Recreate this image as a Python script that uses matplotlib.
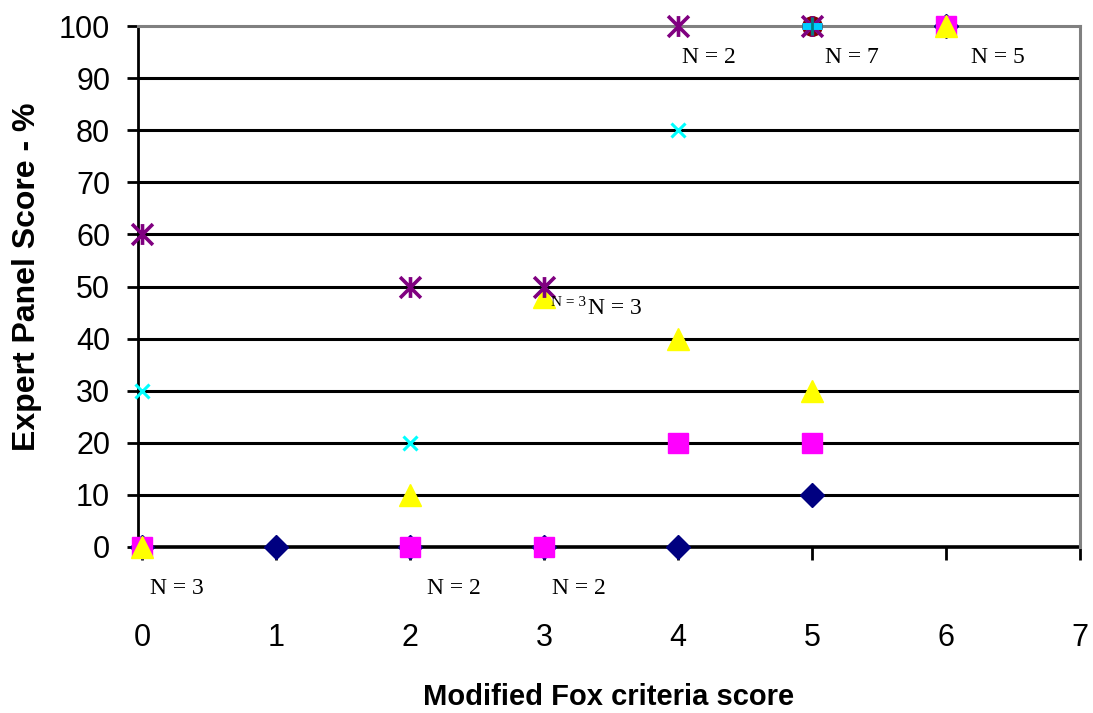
import numpy as np
import matplotlib
matplotlib.use("Agg")
import matplotlib.pyplot as plt
from matplotlib.path import Path

# Expert panel score (%) against modified Fox criteria score
diamond_x = [0, 1, 2, 3, 4, 5, 6]
diamond_y = [0, 0, 0, 0, 0, 10, 100]
square_x = [0, 2, 3, 4, 5, 6]
square_y = [0, 0, 0, 20, 20, 100]
triangle_x = [0, 2, 3, 4, 5, 6]
triangle_y = [0, 10, 48, 40, 30, 100]
cross_x = [0, 2, 3, 4, 5]
cross_y = [30, 20, 50, 80, 100]
star_x = [0, 2, 3, 4, 5]
star_y = [60, 50, 50, 100, 100]
circle_x = [5]
circle_y = [100]

# "N = n" annotations (x, y, text)
n_labels = [
    (0.26, -7.9, "N = 3"),
    (2.33, -7.9, "N = 2"),
    (3.26, -7.9, "N = 2"),
    (4.23, 94.0, "N = 2"),
    (5.30, 94.0, "N = 7"),
    (6.39, 94.0, "N = 5"),
    (3.53, 45.7, "N = 3"),
]
small_label = (3.18, 46.9, "N = 3")

sans = ["Liberation Sans", "DejaVu Sans"]
serif = ["Liberation Serif", "DejaVu Serif"]

fig = plt.figure(figsize=(10.93, 7.13), dpi=100)
ax = fig.add_axes([138 / 1093, 166 / 713, 942 / 1093, 521 / 713])

ax.set_xlim(-0.03, 6.985)
ax.set_ylim(0, 100)

# horizontal gridlines
for v in range(10, 100, 10):
    ax.axhline(v, color="black", lw=2.2, zorder=1)

for s in ["top", "right"]:
    ax.spines[s].set_color("#808080")
    ax.spines[s].set_linewidth(2.2)
ax.spines["left"].set_color("black")
ax.spines["left"].set_linewidth(2)
ax.spines["bottom"].set_color("black")
ax.spines["bottom"].set_linewidth(2.6)
ax.spines["bottom"].set_zorder(1)

asterisk = Path([(0, -1), (0, 1), (-1, -1), (1, 1), (-1, 1), (1, -1)],
                [Path.MOVETO, Path.LINETO] * 3)

kw = dict(ls="none", clip_on=False, zorder=3)
ax.plot(diamond_x, diamond_y, marker="D", ms=12.5, color="#000080", mec="#000080", **kw)
ax.plot(square_x, square_y, marker="s", ms=14, color="#FF00FF", mec="#FF00FF", **kw)
ax.plot(triangle_x, triangle_y, marker="^", ms=16, color="#FFFF00", mec="#FFFF00", **kw)
ax.plot(circle_x, circle_y, marker="o", ms=14, color="#800000", mec="#800000", **kw)
ax.plot(cross_x, cross_y, marker="x", ms=9.5, mew=2.2, color="#00FFFF", **kw)
ax.plot(star_x, star_y, marker=asterisk, ms=15, mew=2.6, color="#800080", **kw)
ax.plot(circle_x, circle_y, marker="_", ms=14, mew=5, color="#00CCFF", **kw)
ax.plot(circle_x, circle_y, marker="|", ms=13, mew=2, color="#008080", **kw)

ax.set_xticks(range(0, 8))
ax.set_yticks(range(0, 101, 10))
ax.tick_params(axis="y", direction="out", length=8, width=2, pad=12,
               labelsize=22, color="black")
ax.tick_params(axis="x", direction="out", length=9, width=2, pad=46,
               labelsize=22, color="black")
for lab in ax.get_xticklabels() + ax.get_yticklabels():
    lab.set_family(sans)

ax.set_xlabel("Modified Fox criteria score", fontsize=21, fontweight="bold",
              family=sans, va="center")
ax.xaxis.set_label_coords(0.5, -0.288)
ax.set_ylabel("Expert Panel Score - %", fontsize=23, fontweight="bold",
              family=sans, va="center")
ax.yaxis.set_label_coords(-0.118, 0.519)

for x, y, t in n_labels:
    ax.text(x, y, t, fontsize=17, family=serif, ha="center", va="center",
            clip_on=False, zorder=4)
ax.text(small_label[0], small_label[1], small_label[2], fontsize=11,
        family=serif, ha="center", va="center", clip_on=False, zorder=4)

fig.savefig("out.png", dpi=100)
